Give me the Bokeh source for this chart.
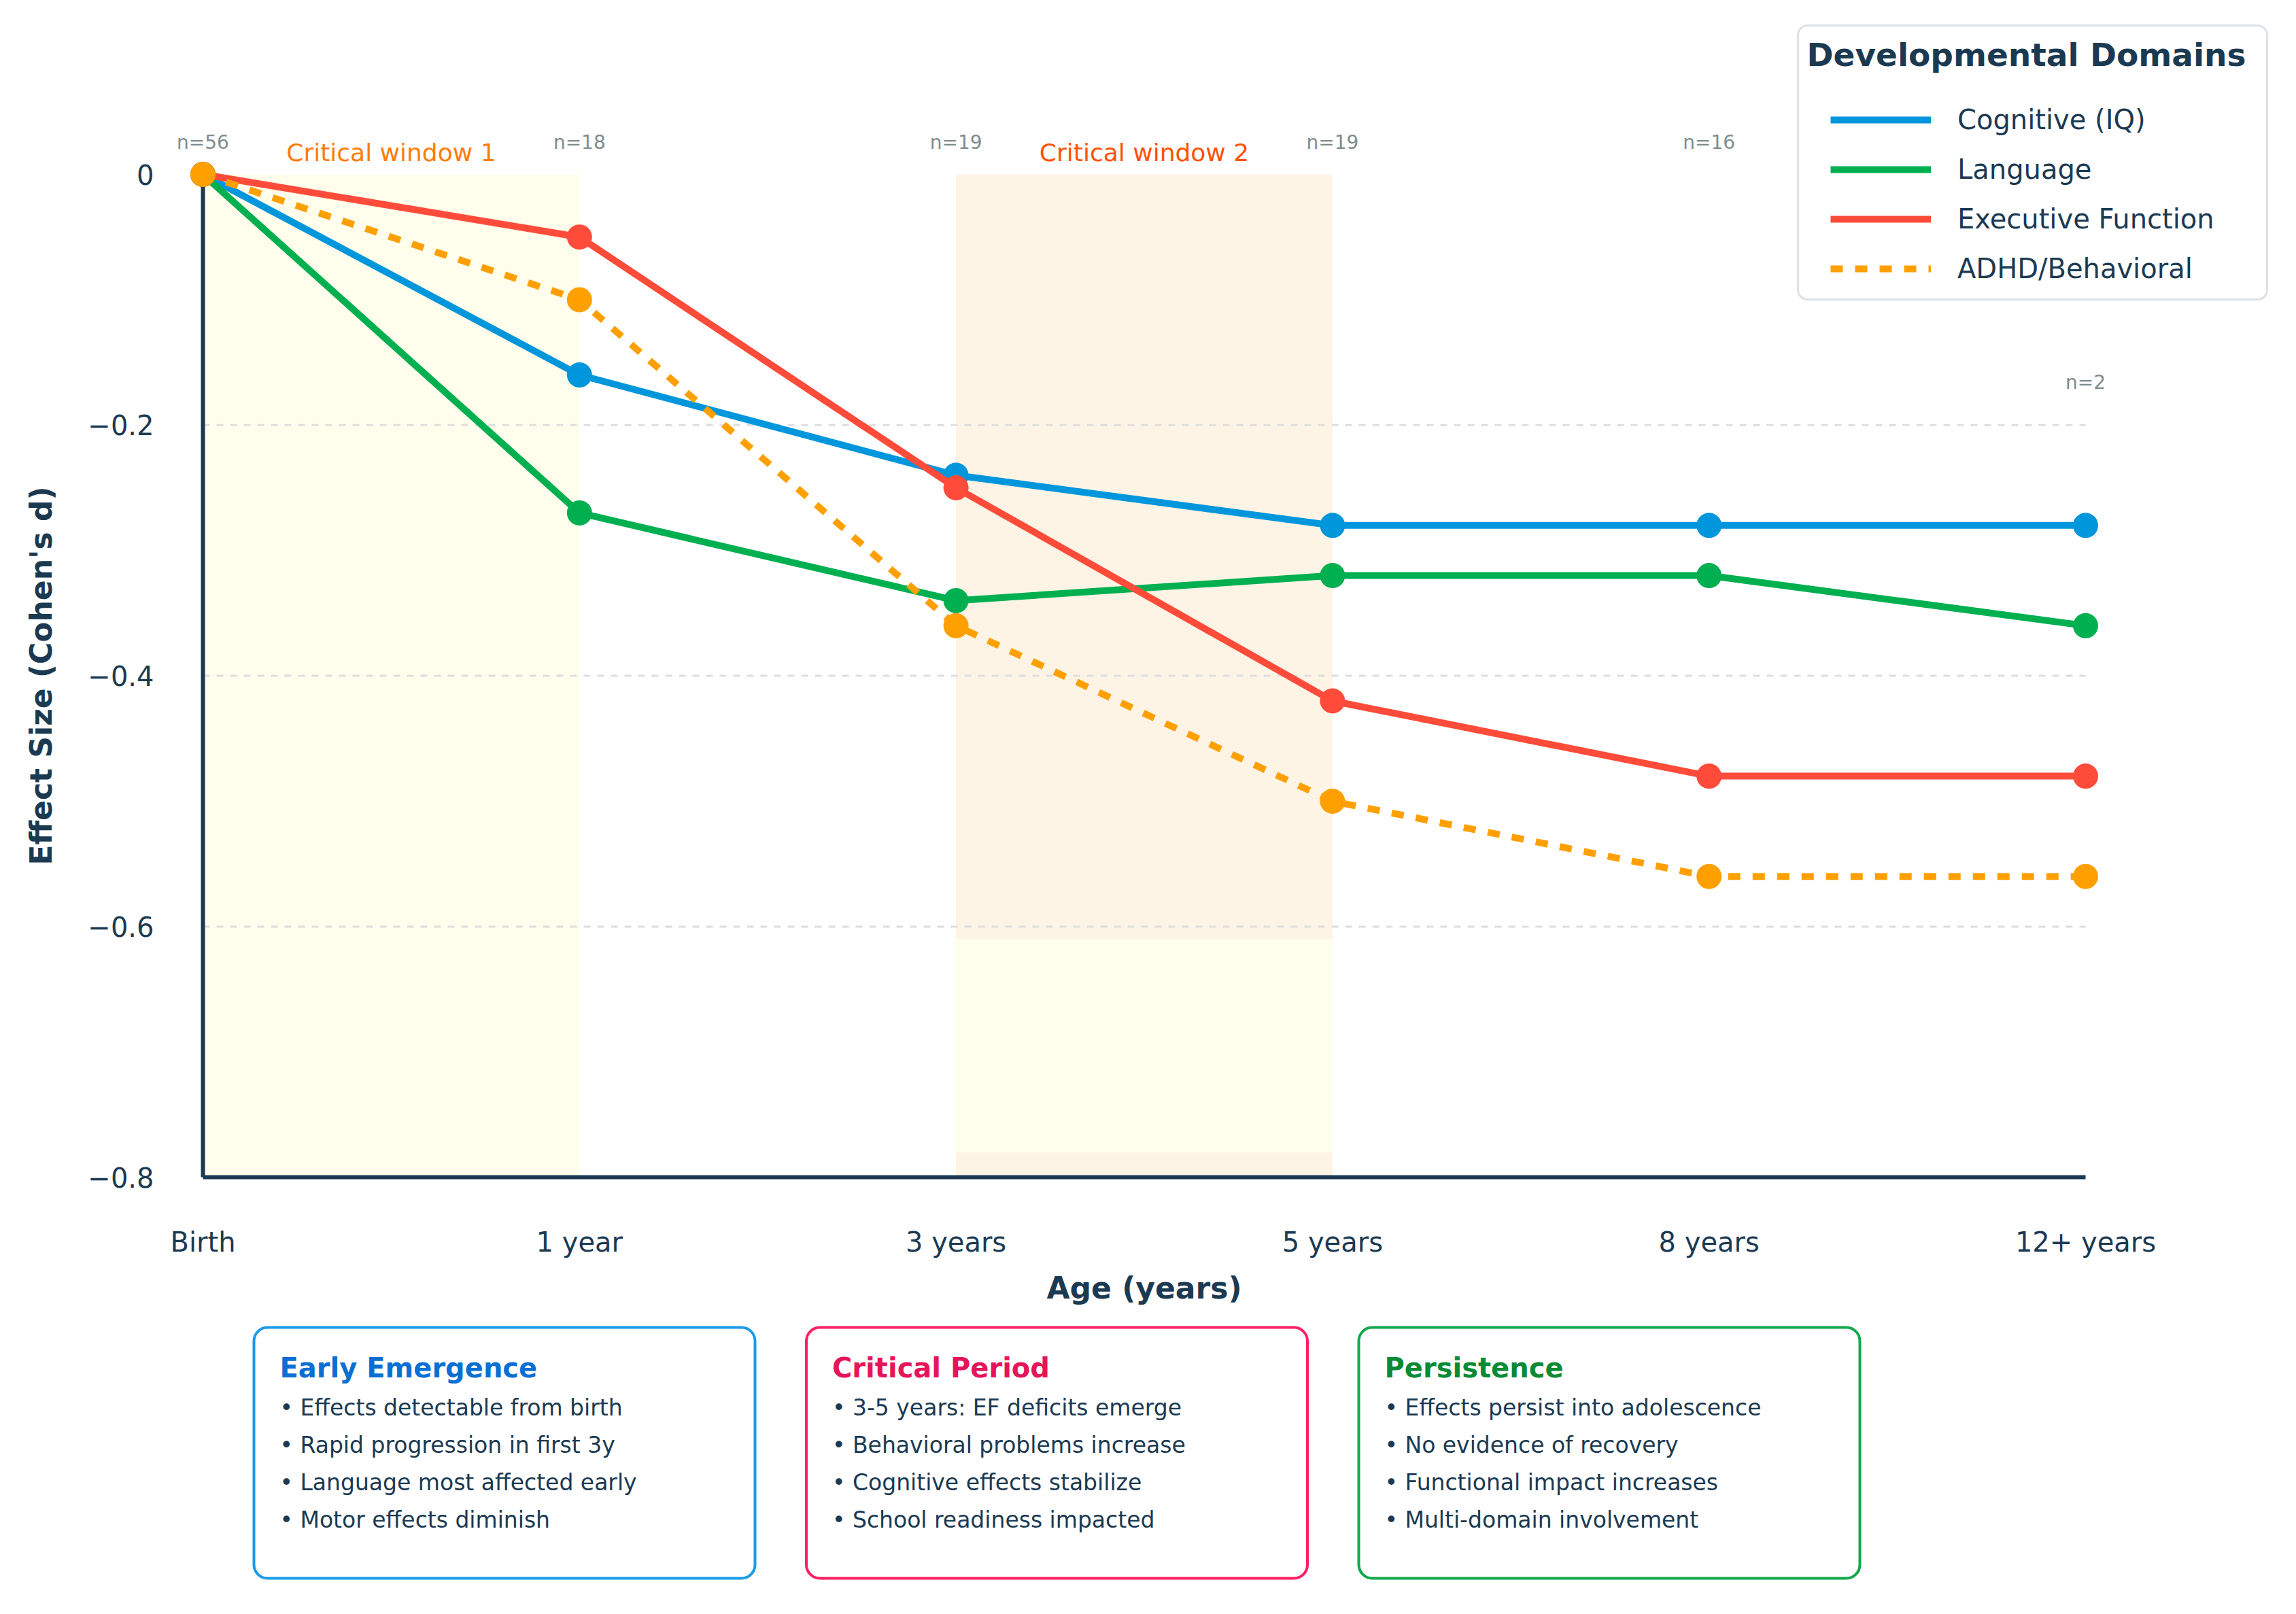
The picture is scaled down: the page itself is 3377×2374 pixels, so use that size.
from bokeh.plotting import figure
from bokeh.models import FixedTicker, Legend, LegendItem, Label, BoxAnnotation
from bokeh.embed import file_html
from bokeh.resources import INLINE
from bokeh.core.properties import value

# ---------------- data ----------------
ages = ["Birth", "1 year", "3 years", "5 years", "8 years", "12+ years"]
sample_sizes = [56, 18, 19, 19, 16, 2]
cognitive = [0.0, -0.16, -0.24, -0.28, -0.28, -0.28]
language = [0.0, -0.27, -0.34, -0.32, -0.32, -0.36]
executive = [0.0, -0.05, -0.25, -0.42, -0.48, -0.48]
adhd = [0.0, -0.10, -0.36, -0.50, -0.56, -0.56]
series_names = ["Cognitive (IQ)", "Language", "Executive Function", "ADHD/Behavioral"]
y_ticks = [0.0, -0.2, -0.4, -0.6, -0.8]
y_tick_labels = ["0", "\u22120.2", "\u22120.4", "\u22120.6", "\u22120.8"]
grid_values = [-0.2, -0.4, -0.6]
window_start = [0, 2]
window_end = [1, 3]
window_labels = ["Critical window 1", "Critical window 2"]
box_titles = ["Early Emergence", "Critical Period", "Persistence"]
box_bullets = [
    ["Effects detectable from birth", "Rapid progression in first 3y",
     "Language most affected early", "Motor effects diminish"],
    ["3-5 years: EF deficits emerge", "Behavioral problems increase",
     "Cognitive effects stabilize", "School readiness impacted"],
    ["Effects persist into adolescence", "No evidence of recovery",
     "Functional impact increases", "Multi-domain involvement"],
]

# ---------------- styles / layout ----------------
FONT = "DejaVu Sans"
TEXT = "#1b3a52"
series_colors = ["#0096dc", "#00b050", "#ff4b3a", "#ffa000"]
series_dash = ["solid", "solid", "solid", "18 18"]
window_fill = ["#fffdeb", "#fdf4e6"]
window_text = ["#ff7c0a", "#ff5200"]
box_border = ["#1a9be8", "#ff1f63", "#12a84a"]
box_title_col = ["#0a6fd3", "#e6145a", "#0a8a35"]

W, H = 3361, 2358
OFF = 0.0                      # canvas offset vs. reference pixels
X0_PX, UX = 298.0, 553.8       # px of x=0, px per category step
Y0_PX, UY = 256.0, 1844.0      # px of y=0, px per unit effect size

x_start = -(X0_PX - OFF) / UX
x_end = x_start + W / UX
y_end = (Y0_PX - OFF) / UY
y_start = y_end - H / UY


def dx(px):
    return (px - X0_PX) / UX


def dy(py):
    return (Y0_PX - py) / UY


p = figure(width=W, height=H, x_range=(x_start, x_end), y_range=(y_start, y_end),
           output_backend="svg", toolbar_location=None, min_border=0,
           outline_line_color=None, background_fill_color="white")
p.grid.visible = False

idx = list(range(len(ages)))
y_min, y_max = min(y_ticks), max(y_ticks)

# axes
p.xaxis.ticker = FixedTicker(ticks=idx)
p.xaxis.major_label_overrides = {i: a for i, a in zip(idx, ages)}
p.xaxis.fixed_location = y_min
p.xaxis.bounds = (idx[0], idx[-1])
p.xaxis.axis_label = "Age (years)"
p.xaxis.major_label_standoff = 66
p.xaxis.axis_label_standoff = 16

p.yaxis.ticker = FixedTicker(ticks=y_ticks)
p.yaxis.major_label_overrides = {t: l for t, l in zip(y_ticks, y_tick_labels)}
p.yaxis.fixed_location = idx[0]
p.yaxis.bounds = (y_min, y_max)
p.yaxis.axis_label = "Effect Size (Cohen's d)"
p.yaxis.major_label_standoff = 66
p.yaxis.axis_label_standoff = 40

for ax in (p.xaxis[0], p.yaxis[0]):
    ax.level = "underlay"
    ax.axis_line_color = TEXT
    ax.axis_line_width = 6
    ax.major_tick_line_color = None
    ax.minor_tick_line_color = None
    ax.major_label_text_font = FONT
    ax.major_label_text_font_size = "40px"
    ax.major_label_text_color = TEXT
    ax.axis_label_text_font = FONT
    ax.axis_label_text_font_size = "44px"
    ax.axis_label_text_font_style = "bold"
    ax.axis_label_text_color = TEXT

# shaded critical windows
p.quad(left=window_start, right=window_end, top=y_max, bottom=y_min,
       fill_color=window_fill, line_color=None, level="image")
p.quad(left=window_start[1], right=window_end[1], top=-0.61, bottom=-0.78,
       fill_color=window_fill[0], line_color=None, level="image")

# dashed gridlines
p.segment(x0=idx[0], x1=idx[-1], y0=grid_values, y1=grid_values,
          line_color="#dedede", line_width=3, line_dash="10 10", level="underlay")

# series
items = []
for name, vals, col, dash in zip(series_names, [cognitive, language, executive, adhd],
                                 series_colors, series_dash):
    r = p.line(idx, vals, line_width=10, line_color=col, line_dash=dash, line_join="round")
    p.scatter(idx, vals, size=37, fill_color=col, line_color=col, line_width=0)
    items.append(LegendItem(label=name, renderers=[r]))

# sample size labels
n_y = [dy(209)] * 5 + [dy(562)]
p.text(x=idx, y=n_y, text=[f"n={n}" for n in sample_sizes], text_align="center",
       text_baseline="middle", text_font=value(FONT), text_font_size="28px",
       text_color="#7f8c8d")

# window labels
p.text(x=[(a + b) / 2 for a, b in zip(window_start, window_end)], y=[dy(224)] * 2,
       text=window_labels, text_align="center", text_baseline="middle",
       text_font=value(FONT), text_font_size="36px", text_color=window_text)

# legend frame + title + legend
p.add_layout(BoxAnnotation(left=dx(2644), right=dx(3334), top=dy(37), bottom=dy(440),
                           fill_color="white", fill_alpha=1.0, line_color="#dde2e7",
                           line_alpha=1.0, line_width=3, border_radius=14))
p.add_layout(Label(x=dx(2657), y=dy(80), text="Developmental Domains", text_font=FONT,
                   text_font_size="47px", text_font_style="bold", text_color=TEXT,
                   text_align="left", text_baseline="middle"))
legend = Legend(items=items, location=(2692 - OFF, H - (419 - OFF)), orientation="vertical",
                glyph_width=148, glyph_height=48, label_height=48, label_standoff=39,
                spacing=25, padding=0, margin=0, border_line_color=None,
                background_fill_alpha=0.0, label_text_font=FONT,
                label_text_font_size="40px", label_text_color=TEXT)
p.add_layout(legend)

# annotation boxes
BOX_L0, BOX_STEP, BOX_W = 373.0, 812.5, 737.0
BOX_T, BOX_B = 1952.0, 2321.0
for i, (title, bullets) in enumerate(zip(box_titles, box_bullets)):
    left = BOX_L0 + BOX_STEP * i
    p.add_layout(BoxAnnotation(left=dx(left), right=dx(left + BOX_W), top=dy(BOX_T),
                               bottom=dy(BOX_B), fill_color="white", fill_alpha=1.0,
                               line_color=box_border[i], line_alpha=1.0, line_width=4,
                               border_radius=20))
    p.add_layout(Label(x=dx(left + 38), y=dy(2011), text=title, text_font=FONT,
                       text_font_size="40px", text_font_style="bold",
                       text_color=box_title_col[i], text_align="left",
                       text_baseline="middle"))
    for j, b in enumerate(bullets):
        p.add_layout(Label(x=dx(left + 38), y=dy(2070 + 55 * j), text="\u2022 " + b,
                           text_font=FONT, text_font_size="33px", text_color=TEXT,
                           text_align="left", text_baseline="middle"))

open("out.html", "w").write(file_html(p, INLINE))
